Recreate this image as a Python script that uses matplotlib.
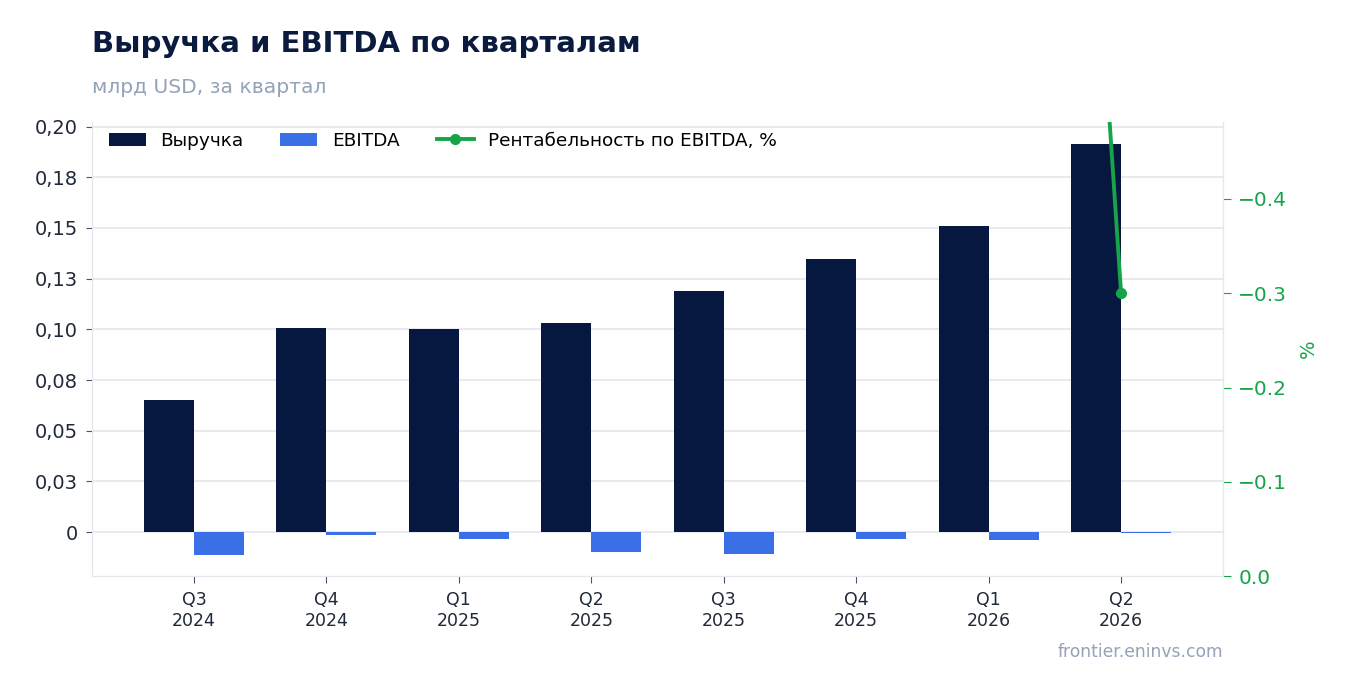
import matplotlib.pyplot as plt
import numpy as np
from decimal import Decimal, ROUND_HALF_UP
from matplotlib.ticker import FuncFormatter, FixedLocator

plt.rcParams["font.family"] = ["DejaVu Sans"]

quarters = ["Q3\n2024", "Q4\n2024", "Q1\n2025", "Q2\n2025",
            "Q3\n2025", "Q4\n2025", "Q1\n2026", "Q2\n2026"]
revenue = [0.0653, 0.1005, 0.1000, 0.1030, 0.1188, 0.1347, 0.1512, 0.1915]
ebitda = [-0.0112, -0.0013, -0.0035, -0.0099, -0.0107, -0.0035, -0.0040, -0.0006]
margin = [-17.2, -1.3, -3.5, -9.6, -9.0, -2.6, -2.4, -0.3]

navy = "#061740"
blue = "#3b6fe6"
green = "#16a34a"
grid_c = "#e3e8ef"


def left_fmt(v, pos):
    if abs(v) < 1e-9:
        return "0"
    d = Decimal(str(round(v, 6))).quantize(Decimal("0.01"), rounding=ROUND_HALF_UP)
    return str(d).replace(".", ",")


fig = plt.figure(figsize=(13.47, 6.93), dpi=100)
ax = fig.add_axes([0.0683, 0.1688, 0.8397, 0.6552])

x = np.arange(len(quarters))
w = 0.378
ax.bar(x - w / 2, revenue, w, color=navy, label="Выручка", zorder=3)
ax.bar(x + w / 2, ebitda, w, color=blue, label="EBITDA", zorder=3)

ax.set_xlim(-0.77, 7.77)
ax.set_ylim(-0.0217, 0.2023)
ax.yaxis.set_major_locator(FixedLocator(np.arange(0, 0.2001, 0.025)))
ax.yaxis.set_major_formatter(FuncFormatter(left_fmt))
ax.grid(axis="y", color=grid_c, linewidth=1.2, zorder=0)
ax.set_xticks(x)
ax.set_xticklabels(quarters, fontsize=12.5, color="#1f2937")
ax.tick_params(axis="y", labelsize=14, colors="#1f2937", length=4,
               color="#4b5563", pad=6)
ax.tick_params(axis="x", length=5, color="#4b5563", pad=6)
for s in ["left", "bottom", "right"]:
    ax.spines[s].set_color(grid_c)
ax.spines["top"].set_visible(False)

# margin line on a second axis (only the last point lands inside the range)
ax2 = ax.twinx()
ax2.plot(x, margin, color=green, linewidth=2.8, marker="o", markersize=7,
         label="Рентабельность по EBITDA, %", zorder=4)
ax2.set_ylim(0, -0.4817)
ax2.set_yticks([0.0, -0.1, -0.2, -0.3, -0.4])
ax2.yaxis.set_major_formatter(FuncFormatter(
    lambda v, p: "0.0" if abs(v) < 1e-9 else f"{v:.1f}".replace("-", "\u2212")))
ax2.tick_params(axis="y", labelsize=14.5, colors=green, length=6, color=green, pad=5)
ax2.set_ylabel("%", color=green, fontsize=14, labelpad=8)
for s in ["left", "bottom", "right"]:
    ax2.spines[s].set_color(grid_c)
ax2.spines["top"].set_visible(False)

h1, l1 = ax.get_legend_handles_labels()
h2, l2 = ax2.get_legend_handles_labels()
ax.legend(h1 + h2, l1 + l2, loc="upper left", ncol=3, frameon=False,
          fontsize=13.3, bbox_to_anchor=(0.0, 1.015), handlelength=2.0,
          columnspacing=2.0)

fig.text(0.0683, 0.936, "Выручка и EBITDA по кварталам", fontsize=21,
         fontweight="bold", color="#0b1a3f", va="center")
fig.text(0.0683, 0.874, "млрд USD, за квартал", fontsize=14.6,
         color="#94a3b8", va="center")
fig.text(0.908, 0.059, "frontier.eninvs.com", fontsize=12.3,
         color="#94a3b8", ha="right", va="center")

fig.savefig("out.png", dpi=100)
